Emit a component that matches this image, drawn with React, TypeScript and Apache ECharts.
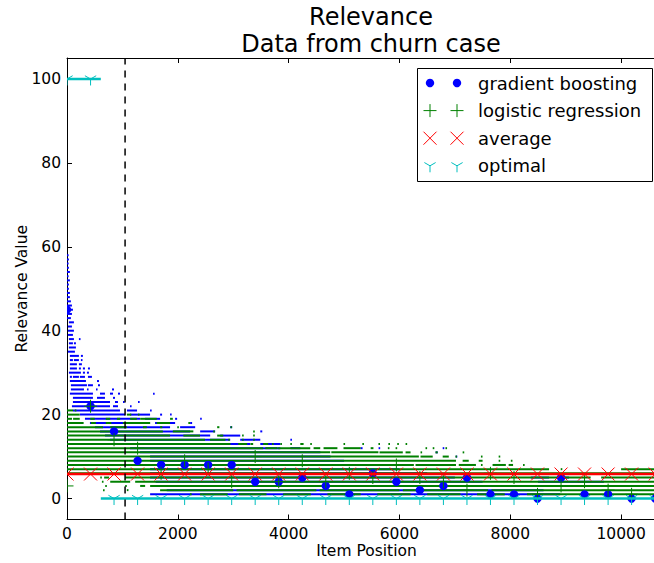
import { useEffect, useRef } from 'react';
import * as echarts from 'echarts';

// ---------- data ----------
const X_MAX = 10810;
const LAST_POSITION = 10614;
const THRESHOLD_POSITION = 1048;
const AVERAGE_RELEVANCE = 5.84;
const OPTIMAL_CUTOFF = 610;

const xTicks = [0, 2000, 4000, 6000, 8000, 10000];
const yTicks = [0, 20, 40, 60, 80, 100];

// positions where markers are drawn
const markerPositions = [0, 425, 849, 1274, 1698, 2123, 2547, 2972, 3396, 3821, 4246, 4670, 5095,
  5519, 5944, 6368, 6793, 7218, 7642, 8067, 8491, 8916, 9340, 9765, 10189, 10614];
const gradientBoostingMarkers = [45, 22, 16, 9, 8, 8, 8, 8, 4, 4, 5, 3, 1, 6, 4, 2, 3, 5, 1, 1, 0, 5, 1, 1, 0, 0];
const logisticRegressionMarkers = [3, 22, 14, 12, 6, 9, 7, 4, 10, 4, 9, 4, 6, 5, 8, 5, 4, 2, 6, 5, 1, 3, 4, 2, 1, 3];
const optimalMarkers = [100, 100, 0, 0, 0, 0, 0, 0, 0, 0, 0, 0, 0, 0, 0, 0, 0, 0, 0, 0, 0, 0, 0, 0, 0, 0];

// runs of consecutive items sharing a relevance level: [level, firstPosition, lastPosition]
const gradientBoostingRuns = [
  [58, 0, 15], [57, 0, 34], [56, 0, 15], [55, 0, 34], [54, 0, 52], [53, 0, 15], [52, 0, 52], [51, 0, 34],
  [50, 0, 34], [49, 0, 52], [48, 0, 52], [47, 0, 70], [46, 0, 89], [45, 0, 107], [44, 0, 89], [43, 0, 70],
  [42, 34, 125], [41, 16, 89], [40, 16, 125], [39, 16, 107], [38, 34, 125], [38, 215, 230],
  [37, 34, 107], [37, 125, 161], [36, 34, 161], [35, 16, 143], [34, 52, 215], [34, 251, 287],
  [33, 52, 107], [33, 125, 215], [33, 251, 269], [32, 52, 179], [32, 215, 269],
  [31, 52, 179], [31, 215, 251], [31, 287, 324], [31, 378, 414],
  [30, 34, 251], [30, 287, 324], [30, 360, 396],
  [29, 52, 89], [29, 107, 215], [29, 233, 324], [29, 378, 450],
  [28, 52, 342], [28, 541, 577], [27, 70, 360], [27, 378, 468], [27, 559, 595],
  [26, 70, 306], [26, 360, 378], [26, 523, 541], [26, 812, 848],
  [25, 52, 468], [25, 595, 685], [25, 776, 830], [25, 920, 956], [25, 1553, 1571],
  [24, 107, 468], [24, 541, 685], [24, 830, 866],
  [23, 107, 776], [23, 866, 920], [23, 1011, 1029], [23, 1282, 1300],
  [22, 89, 776], [22, 830, 920], [22, 1137, 1155],
  [21, 107, 956], [21, 1083, 1264], [21, 1499, 1517],
  [20, 233, 1047], [20, 1137, 1499], [20, 1680, 1716], [20, 1860, 1878],
  [19, 324, 1318], [19, 1408, 1680], [19, 1951, 1987], [19, 2403, 2421],
  [18, 414, 1499], [18, 1589, 1951], [18, 2222, 2258],
  [17, 504, 1860], [17, 2041, 2313], [17, 2945, 2981],
  [16, 595, 2222], [16, 2403, 2674], [16, 3488, 3524],
  [15, 685, 2584], [15, 2764, 3126],
  [14, 776, 2945], [14, 3126, 3488], [14, 4031, 4049],
  [13, 866, 3307], [13, 3488, 3850],
  [12, 1137, 3850], [12, 4031, 4211], [12, 5298, 5334], [12, 5623, 5641], [12, 6780, 6800],
  [11, 1318, 4572], [11, 6653, 6690], [10, 1499, 4755], [10, 7015, 7033],
  [9, 1499, 5000], [8, 1499, 5500], [7, 1499, 6000], [6, 1499, 6500],
  [5, 1499, 7000], [5, 8370, 8700], [5, 8900, 9060],
  [4, 1600, 7500], [4, 8500, 9690], [3, 1700, 8000], [2, 1800, 8600], [1, 1500, 8900],
];

const logisticRegressionRuns = [
  [21, 0, 110], [21, 140, 160],
  [20, 0, 230], [20, 1080, 1160], [20, 1280, 1300],
  [19, 0, 90], [19, 110, 230], [19, 420, 500], [19, 700, 780], [19, 900, 960], [19, 1140, 1260],
  [19, 1320, 1620], [19, 1860, 1910],
  [18, 0, 300], [18, 430, 520], [18, 700, 800], [18, 1010, 1500], [18, 1620, 1860], [18, 2190, 2210],
  [17, 0, 650], [17, 780, 1080], [17, 1370, 1440], [17, 1680, 1720], [17, 1990, 2010], [17, 2710, 2750],
  [17, 2950, 2970],
  [16, 0, 1730], [16, 1910, 2280], [16, 2640, 2660], [16, 3360, 3380],
  [15, 0, 1860], [15, 2100, 2400], [15, 2710, 2820], [15, 3160, 3180], [15, 3360, 3380],
  [14, 0, 2490], [14, 2580, 2860], [14, 2910, 2930], [14, 3160, 3180], [14, 3360, 3380],
  [13, 0, 2950], [13, 3090, 3250], [13, 3310, 3360], [13, 3540, 3630], [13, 3700, 3720], [13, 3850, 3870],
  [13, 4030, 4050], [13, 4210, 4270], [13, 4390, 4410], [13, 4990, 5010], [13, 5330, 5350],
  [13, 5620, 5640], [13, 5800, 5820], [13, 5960, 5980], [13, 6110, 6130],
  [12, 0, 3540], [12, 3580, 3800], [12, 3810, 4390], [12, 4450, 4570], [12, 4630, 4880], [12, 4990, 5300],
  [12, 5480, 5530], [12, 5790, 5800], [12, 5930, 5950], [12, 6470, 6490], [12, 6600, 6620], [12, 6830, 6850],
  [11, 0, 4750], [11, 4770, 5620], [11, 5640, 6060], [11, 6110, 6200], [11, 6380, 6400], [11, 6650, 6690],
  [11, 7140, 7160],
  [10, 0, 6350], [10, 6380, 6600], [10, 6780, 6890], [10, 7010, 7030], [10, 7470, 7490], [10, 7790, 7810],
  [9, 0, 7020], [9, 7140, 7250], [9, 7430, 7500], [9, 7790, 7810], [9, 8010, 8030],
  [8, 0, 6260], [8, 6290, 7020], [8, 7070, 7380], [8, 7470, 7500], [8, 7680, 7920], [8, 7970, 8050],
  [8, 8230, 8250],
  [7, 0, 8700], [7, 8910, 8930], [7, 10000, 10614],
  [6, 0, 10614],
  [5, 600, 620], [5, 670, 760], [5, 1050, 9450], [5, 9640, 10614],
  [4, 630, 650], [4, 780, 1140], [4, 1230, 10614],
  [3, 690, 700], [3, 1050, 1070], [3, 1320, 1410], [3, 1500, 10614],
  [2, 650, 670], [2, 1080, 1100], [2, 1680, 3000], [2, 3060, 4500], [2, 4560, 6000], [2, 6060, 7600],
  [2, 7660, 10614],
  [1, 2220, 2240], [1, 2400, 2900], [1, 3100, 3600], [1, 3900, 4400], [1, 4700, 5300], [1, 5600, 6200],
  [1, 6500, 7100], [1, 7400, 7900], [1, 8300, 10614],
];

// ---------- styling ----------
const FONT = 'DejaVu Sans';
const BLUE = '#0000ff';
const GREEN = '#008000';
const RED = '#ff0000';
const CYAN = '#00bfbf';

type Kind = 'circle' | 'plus' | 'cross' | 'tri';

function markerShape(kind: Kind, cx: number, cy: number, color: string): any[] {
  const r = 6.5;
  const ln = (x1: number, y1: number, x2: number, y2: number) => ({
    type: 'line', shape: { x1, y1, x2, y2 }, style: { stroke: color, lineWidth: 1 },
  });
  switch (kind) {
    case 'circle':
      return [{ type: 'circle', shape: { cx, cy, r: 4.2 }, style: { fill: color } }];
    case 'plus':
      return [ln(cx - r, cy, cx + r, cy), ln(cx, cy - r, cx, cy + r)];
    case 'cross':
      return [ln(cx - r, cy - r, cx + r, cy + r), ln(cx - r, cy + r, cx + r, cy - r)];
    default:
      return [ln(cx, cy, cx, cy + r), ln(cx, cy, cx - 0.866 * r, cy - 0.5 * r), ln(cx, cy, cx + 0.866 * r, cy - 0.5 * r)];
  }
}

function runSeries(name: string, runs: number[][], color: string) {
  return {
    type: 'custom', name, silent: true, clip: true,
    encode: { x: [1, 2], y: 0 },
    data: runs,
    renderItem: (_p: any, api: any) => {
      const level = api.value(0);
      const a = api.coord([api.value(1), level]);
      const b = api.coord([api.value(2), level]);
      return { type: 'rect', shape: { x: a[0], y: a[1] - 1, width: Math.max(b[0] - a[0], 1.6), height: 2 }, style: { fill: color } };
    },
  };
}

function markerSeries(name: string, values: number[], kind: Kind, color: string) {
  return {
    type: 'custom', name, silent: true, clip: true,
    encode: { x: 0, y: 1 },
    data: markerPositions.map((x, i) => [x, values[i]]),
    renderItem: (_p: any, api: any) => {
      const p = api.coord([api.value(0), api.value(1)]);
      return { type: 'group', children: markerShape(kind, p[0], p[1], color) };
    },
  };
}

const legendEntries: { label: string; kind: Kind; color: string }[] = [
  { label: 'gradient boosting', kind: 'circle', color: BLUE },
  { label: 'logistic regression', kind: 'plus', color: GREEN },
  { label: 'average', kind: 'cross', color: RED },
  { label: 'optimal', kind: 'tri', color: CYAN },
];

function legendGraphic() {
  const children: any[] = [
    { type: 'rect', shape: { x: 417.5, y: 68.5, width: 235, height: 113 }, style: { fill: '#fff', stroke: '#000', lineWidth: 1 } },
  ];
  legendEntries.forEach((e, i) => {
    const cy = 83 + i * 27.6;
    children.push(...markerShape(e.kind, 430, cy, e.color));
    children.push(...markerShape(e.kind, 457, cy, e.color));
    children.push({
      type: 'text', x: 478, y: cy,
      style: { text: e.label, fill: '#000', font: `18px "${FONT}"`, textVerticalAlign: 'middle', verticalAlign: 'middle' },
    });
  });
  return [{ type: 'group', z: 100, children }];
}

const plainNumber = (v: number) => String(v);

export default function App() {
  const ref = useRef<HTMLDivElement>(null);
  useEffect(() => {
    if (!ref.current) return;
    const chart = echarts.init(ref.current, null, { renderer: 'svg' });
    const axisLabelStyle = { color: '#000', fontSize: 15.5, fontFamily: FONT };
    chart.setOption({
      animation: false,
      backgroundColor: '#fff',
      title: [
        { text: 'Relevance', left: 366, top: 0, textAlign: 'center', textStyle: { fontSize: 24, fontWeight: 'normal', fontFamily: FONT, color: '#000' } },
        { text: 'Data from churn case', left: 366, top: 27, textAlign: 'center', textStyle: { fontSize: 24, fontWeight: 'normal', fontFamily: FONT, color: '#000' } },
      ],
      grid: { left: 67, top: 58, width: 599, bottom: 43.5, containLabel: false, outerBoundsMode: 'none' },
      xAxis: [
        {
          type: 'value', min: 0, max: X_MAX, position: 'bottom',
          axisLine: { show: true, onZero: false, lineStyle: { color: '#000', width: 1 } },
          axisTick: { show: true, inside: true, length: 5, customValues: xTicks, lineStyle: { color: '#000' } },
          axisLabel: { customValues: xTicks, margin: 6, formatter: plainNumber, ...axisLabelStyle },
          splitLine: { show: false },
          name: 'Item Position', nameLocation: 'middle', nameGap: 23, nameMoveOverlap: false,
          nameTextStyle: { ...axisLabelStyle },
        },
        {
          type: 'value', min: 0, max: X_MAX, position: 'top',
          axisLine: { show: true, onZero: false, lineStyle: { color: '#000', width: 1 } },
          axisTick: { show: true, inside: true, length: 5, customValues: xTicks, lineStyle: { color: '#000' } },
          axisLabel: { show: false },
          splitLine: { show: false },
        },
      ],
      yAxis: [
        {
          type: 'value', min: -5, max: 105, position: 'left',
          axisLine: { show: true, onZero: false, lineStyle: { color: '#000', width: 1 } },
          axisTick: { show: true, inside: true, length: 5, customValues: yTicks, lineStyle: { color: '#000' } },
          axisLabel: { customValues: yTicks, margin: 6, formatter: plainNumber, ...axisLabelStyle },
          splitLine: { show: false },
          name: 'Relevance Value', nameLocation: 'middle', nameGap: 37, nameRotate: 90, nameMoveOverlap: false,
          nameTextStyle: { ...axisLabelStyle },
        },
        {
          type: 'value', min: -5, max: 105, position: 'right',
          axisLine: { show: true, onZero: false, lineStyle: { color: '#000', width: 1 } },
          axisTick: { show: true, inside: true, length: 5, customValues: yTicks, lineStyle: { color: '#000' } },
          axisLabel: { show: false },
          splitLine: { show: false },
        },
      ],
      series: [
        runSeries('gradient boosting runs', gradientBoostingRuns, BLUE),
        runSeries('logistic regression runs', logisticRegressionRuns, GREEN),
        markerSeries('gradient boosting', gradientBoostingMarkers, 'circle', BLUE),
        markerSeries('logistic regression', logisticRegressionMarkers, 'plus', GREEN),
        {
          type: 'line', name: 'average', silent: true, symbol: 'none',
          data: [[0, AVERAGE_RELEVANCE], [LAST_POSITION, AVERAGE_RELEVANCE]],
          lineStyle: { color: RED, width: 2.5 },
        },
        markerSeries('average markers', markerPositions.map(() => AVERAGE_RELEVANCE), 'cross', RED),
        {
          type: 'line', name: 'optimal', silent: true, symbol: 'none',
          data: [[0, 100], [OPTIMAL_CUTOFF, 100]],
          lineStyle: { color: CYAN, width: 2.5 },
        },
        {
          type: 'line', name: 'optimal rest', silent: true, symbol: 'none',
          data: [[OPTIMAL_CUTOFF, 0], [LAST_POSITION, 0]],
          lineStyle: { color: CYAN, width: 2.5 },
        },
        markerSeries('optimal markers', optimalMarkers, 'tri', CYAN),
        {
          type: 'line', name: 'threshold', silent: true, symbol: 'none',
          data: [[THRESHOLD_POSITION, -5], [THRESHOLD_POSITION, 105]],
          lineStyle: { color: '#000', width: 1.5, type: [7, 6] },
        },
      ],
      graphic: legendGraphic(),
    });
    return () => chart.dispose();
  }, []);
  return <div ref={ref} style={{ position: 'absolute', left: 0, top: 0, width: 654, height: 563, background: '#fff' }} />;
}
